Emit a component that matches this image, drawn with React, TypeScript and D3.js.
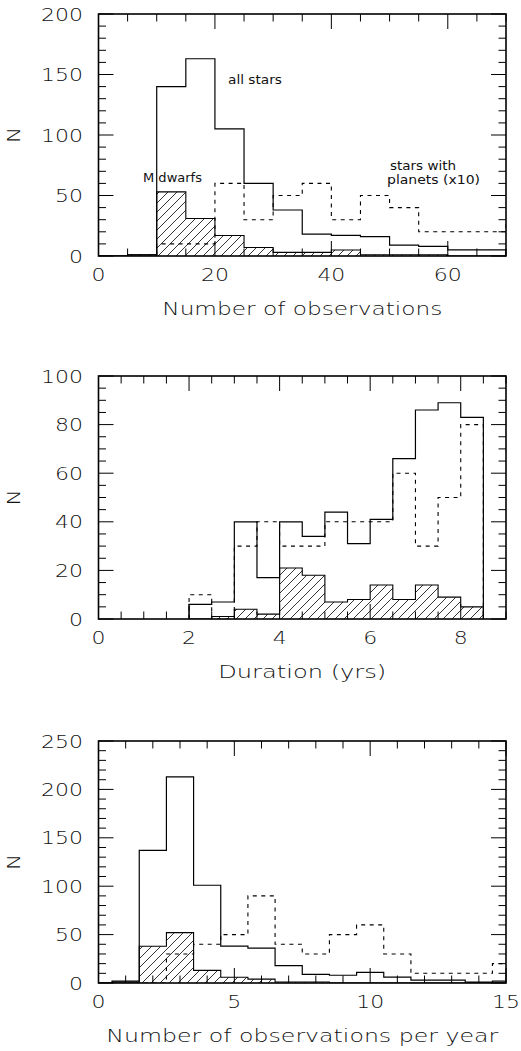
import React from "react";
import * as d3 from "d3";

// ---------- Data ----------
// Panel 1: Number of observations
const obsEdges = [0, 5, 10, 15, 20, 25, 30, 35, 40, 45, 50, 55, 60, 65, 70];
const obsAll = [0, 1, 140, 163, 105, 60, 38, 18, 17, 16, 9, 8, 5, 5];
const obsM = [0, 1, 53, 31, 17, 7, 3, 3, 5, 1, 1, 1, 0, 0];
const obsPlanetEdges = [10, 15, 20, 25, 30, 35, 40, 45, 50, 55, 60, 65, 70, 75];
const obsPlanet = [10, 10, 60, 30, 50, 60, 30, 50, 40, 20, 20, 20, 30];
const obsXLabels = [0, 20, 40, 60];
const obsYLabels = [0, 50, 100, 150, 200];

// Panel 2: Duration (yrs)
const durEdges = [2, 2.5, 3, 3.5, 4, 4.5, 5, 5.5, 6, 6.5, 7, 7.5, 8, 8.5];
const durAll = [6, 7, 40, 17, 40, 34, 44, 31, 41, 66, 86, 89, 83];
const durM = [0, 1, 4, 2, 21, 18, 7, 8, 14, 8, 14, 9, 5];
const durPlanet = [10, 0, 30, 40, 30, 30, 40, 40, 40, 60, 30, 50, 80];
const durXLabels = [0, 2, 4, 6, 8];
const durYLabels = [0, 20, 40, 60, 80, 100];

// Panel 3: Number of observations per year
const rateEdges = [-0.5, 0.5, 1.5, 2.5, 3.5, 4.5, 5.5, 6.5, 7.5, 8.5, 9.5, 10.5, 11.5, 12.5, 13.5, 14.5, 15.5];
const rateAll = [0, 2, 137, 213, 101, 38, 36, 18, 9, 8, 11, 6, 3, 3, 1, 2];
const rateM = [0, 1, 38, 52, 13, 6, 4, 1, 1, 0, 0, 0, 0, 0, 0, 0];
const ratePlanet = [0, 0, 0, 30, 40, 50, 90, 40, 30, 50, 60, 30, 10, 10, 10, 20];
const rateXLabels = [0, 5, 10, 15];
const rateYLabels = [0, 50, 100, 150, 200, 250];

// ---------- Layout ----------
const W = 521;
const H = 1051;
const LEFT = 98.5;
const RIGHT = 506;
const FONT = "'DejaVu Sans', 'Liberation Sans', sans-serif";
const LABEL_SCALE = 1.22;

type Panel = {
  id: string;
  top: number;
  bottom: number;
  xDomain: [number, number];
  yDomain: [number, number];
  xMinor: number;
  xMajor: number;
  yMinor: number;
  yMajor: number;
  xLabels: number[];
  yLabels: number[];
  title: string;
  titleLen: number;
  all: { edges: number[]; values: number[] };
  m: { edges: number[]; values: number[] };
  planet: { edges: number[]; values: number[] };
};

const panels: Panel[] = [
  {
    id: "p1", top: 14, bottom: 256, xDomain: [0, 70], yDomain: [0, 200],
    xMinor: 5, xMajor: 20, yMinor: 10, yMajor: 50,
    xLabels: obsXLabels, yLabels: obsYLabels,
    title: "Number of observations", titleLen: 280,
    all: { edges: obsEdges, values: obsAll },
    m: { edges: obsEdges, values: obsM },
    planet: { edges: obsPlanetEdges, values: obsPlanet },
  },
  {
    id: "p2", top: 376, bottom: 619, xDomain: [0, 9], yDomain: [0, 100],
    xMinor: 0.5, xMajor: 2, yMinor: 5, yMajor: 20,
    xLabels: durXLabels, yLabels: durYLabels,
    title: "Duration (yrs)", titleLen: 168,
    all: { edges: durEdges, values: durAll },
    m: { edges: durEdges, values: durM },
    planet: { edges: durEdges, values: durPlanet },
  },
  {
    id: "p3", top: 741, bottom: 983, xDomain: [0, 15], yDomain: [0, 250],
    xMinor: 1, xMajor: 5, yMinor: 10, yMajor: 50,
    xLabels: rateXLabels, yLabels: rateYLabels,
    title: "Number of observations per year", titleLen: 392,
    all: { edges: rateEdges, values: rateAll },
    m: { edges: rateEdges, values: rateM },
    planet: { edges: rateEdges, values: ratePlanet },
  },
];

function stepPath(
  edges: number[],
  values: number[],
  x: d3.ScaleLinear<number, number>,
  y: d3.ScaleLinear<number, number>
) {
  const pts: [number, number][] = [];
  pts.push([x(edges[0]), y(0)]);
  values.forEach((v, i) => {
    pts.push([x(edges[i]), y(v)]);
    pts.push([x(edges[i + 1]), y(v)]);
  });
  pts.push([x(edges[values.length]), y(0)]);
  return d3.line()(pts) || "";
}

const labelStyle = {
  fontSize: 18,
  fontFamily: FONT,
  fontWeight: 200 as const,
  fill: "#111",
};

function PanelView({ p }: { p: Panel }) {
  const x = d3.scaleLinear().domain(p.xDomain).range([LEFT, RIGHT]);
  const y = d3.scaleLinear().domain(p.yDomain).range([p.bottom, p.top]);
  const eps = 1e-6;
  const xTicks = d3.range(p.xDomain[0], p.xDomain[1] + eps, p.xMinor);
  const yTicks = d3.range(p.yDomain[0], p.yDomain[1] + eps, p.yMinor);
  const isMajor = (v: number, step: number) =>
    Math.abs(v / step - Math.round(v / step)) < 1e-6;
  const minorLen = 7.5;
  const majorLen = 15;
  const midY = (p.top + p.bottom) / 2;
  const clipId = `clip-${p.id}`;

  return (
    <g>
      <defs>
        <clipPath id={clipId}>
          <rect x={LEFT} y={p.top} width={RIGHT - LEFT} height={p.bottom - p.top} />
        </clipPath>
      </defs>
      <g clipPath={`url(#${clipId})`}>
        <path
          d={stepPath(p.m.edges, p.m.values, x, y)}
          fill="url(#hatch)"
          stroke="#000"
          strokeWidth={1.1}
        />
        <path
          d={stepPath(p.all.edges, p.all.values, x, y)}
          fill="none"
          stroke="#000"
          strokeWidth={1.2}
        />
        <path
          d={stepPath(p.planet.edges, p.planet.values, x, y)}
          fill="none"
          stroke="#000"
          strokeWidth={1.1}
          strokeDasharray="4,4.5"
        />
      </g>
      {xTicks.map((v) => {
        const len = isMajor(v, p.xMajor) ? majorLen : minorLen;
        const xx = x(v);
        return (
          <g key={`xt${v}`} stroke="#000" strokeWidth={1}>
            <line x1={xx} x2={xx} y1={p.bottom} y2={p.bottom - len} />
            <line x1={xx} x2={xx} y1={p.top} y2={p.top + len} />
          </g>
        );
      })}
      {yTicks.map((v) => {
        const len = isMajor(v, p.yMajor) ? majorLen : minorLen;
        const yy = y(v);
        return (
          <g key={`yt${v}`} stroke="#000" strokeWidth={1}>
            <line x1={LEFT} x2={LEFT + len} y1={yy} y2={yy} />
            <line x1={RIGHT} x2={RIGHT - len} y1={yy} y2={yy} />
          </g>
        );
      })}
      <rect
        x={LEFT}
        y={p.top}
        width={RIGHT - LEFT}
        height={p.bottom - p.top}
        fill="none"
        stroke="#000"
        strokeWidth={1.6}
      />
      {p.xLabels.map((v) => (
        <text
          key={`xl${v}`}
          transform={`translate(${x(v)},${p.bottom + 25}) scale(${LABEL_SCALE},1)`}
          textAnchor="middle"
          {...labelStyle}
        >
          {v}
        </text>
      ))}
      {p.yLabels.map((v) => (
        <text
          key={`yl${v}`}
          transform={`translate(83,${y(v) + 6.5}) scale(${LABEL_SCALE},1)`}
          textAnchor="end"
          {...labelStyle}
        >
          {v}
        </text>
      ))}
      <text
        x={(LEFT + RIGHT) / 2}
        y={p.bottom + 59}
        textAnchor="middle"
        textLength={p.titleLen}
        lengthAdjust="spacingAndGlyphs"
        {...labelStyle}
      >
        {p.title}
      </text>
      <text
        transform={`translate(20,${midY}) rotate(-90) scale(1.2,1)`}
        textAnchor="middle"
        {...labelStyle}
      >
        N
      </text>
    </g>
  );
}

export default function App() {
  const annot = { fontSize: 12, fontFamily: FONT, fontWeight: 400 as const, fill: "#111" };
  return (
    <svg
      width={W}
      height={H}
      style={{ display: "block", position: "absolute", left: 0, top: 0 }}
    >
      <defs>
        <pattern id="hatch" patternUnits="userSpaceOnUse" width={9} height={9}>
          <path d="M-2,2 L2,-2 M0,9 L9,0 M7,11 L11,7" stroke="#000" strokeWidth={0.8} />
        </pattern>
      </defs>
      <rect x={0} y={0} width={W} height={H} fill="#fff" />
      {panels.map((p) => (
        <PanelView key={p.id} p={p} />
      ))}
      <text x={228} y={84} textLength={54} lengthAdjust="spacingAndGlyphs" {...annot}>all stars</text>
      <text x={143} y={182} textLength={59} lengthAdjust="spacingAndGlyphs" {...annot}>M dwarfs</text>
      <text x={390} y={170} textLength={66} lengthAdjust="spacingAndGlyphs" {...annot}>stars with</text>
      <text x={387} y={184} textLength={93} lengthAdjust="spacingAndGlyphs" {...annot}>planets (x10)</text>
    </svg>
  );
}
